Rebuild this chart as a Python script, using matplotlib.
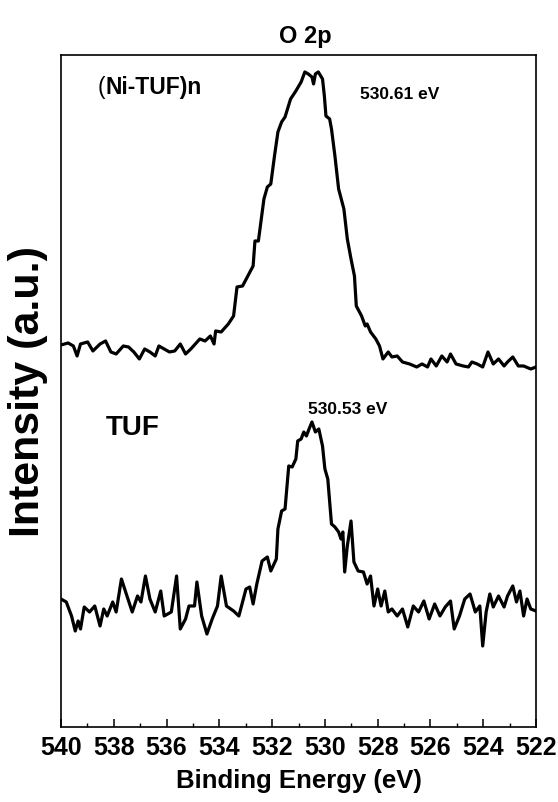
import matplotlib
matplotlib.use('Agg')
import matplotlib.pyplot as plt
from matplotlib.ticker import MultipleLocator, NullLocator

plt.rcParams['font.family'] = ['Liberation Sans', 'DejaVu Sans']
plt.rcParams['font.weight'] = 'bold'

# (Ni-TUF)n spectrum, binding energy (eV) and intensity (a.u.)
e_ni = [540.00, 539.73, 539.53, 539.39, 539.26, 538.99, 538.79, 538.52, 538.31, 538.11,
        537.91, 537.64, 537.44, 537.24, 537.03, 536.83, 536.63, 536.43, 536.29, 536.09,
        535.89, 535.69, 535.48, 535.28, 535.08, 534.74, 534.54, 534.34, 534.20, 534.14,
        533.93, 533.66, 533.46, 533.33, 533.12, 532.92, 532.72, 532.65, 532.52, 532.31,
        532.18, 532.05, 531.91, 531.78, 531.64, 531.51, 531.30, 531.10, 530.90, 530.76,
        530.63, 530.49, 530.43, 530.36, 530.25, 530.09, 530.02, 529.96, 529.82, 529.75,
        529.62, 529.48, 529.28, 529.15, 529.01, 528.88, 528.81, 528.61, 528.47, 528.40,
        528.27, 528.07, 527.93, 527.80, 527.60, 527.46, 527.26, 527.06, 526.79, 526.52,
        526.32, 526.11, 525.98, 525.78, 525.57, 525.37, 525.24, 525.03, 524.76, 524.56,
        524.43, 524.23, 524.02, 523.82, 523.62, 523.42, 523.21, 523.08, 522.88, 522.67,
        522.47, 522.20, 522.00]
i_ni = [382, 384, 381, 371, 383, 385, 376, 383, 386, 375,
        373, 381, 380, 375, 368, 378, 375, 371, 381, 378,
        375, 376, 383, 373, 378, 388, 386, 391, 383, 396,
        395, 403, 411, 440, 441, 451, 461, 486, 486, 528,
        540, 543, 571, 595, 605, 610, 628, 636, 645, 655,
        653, 650, 643, 653, 655, 648, 631, 611, 608, 598,
        571, 538, 518, 488, 468, 451, 421, 411, 401, 403,
        395, 388, 381, 368, 375, 370, 371, 365, 363, 360,
        363, 360, 368, 361, 371, 365, 373, 363, 361, 360,
        365, 363, 360, 375, 363, 368, 361, 365, 370, 361,
        361, 358, 360]

# TUF spectrum
e_tuf = [540.00, 539.80, 539.60, 539.46, 539.35, 539.26, 539.12, 538.92, 538.72, 538.52,
         538.38, 538.25, 538.04, 537.91, 537.71, 537.50, 537.30, 537.10, 536.97, 536.80,
         536.63, 536.43, 536.22, 536.09, 535.82, 535.62, 535.48, 535.28, 535.15, 534.94,
         534.85, 534.67, 534.47, 534.27, 534.07, 533.93, 533.73, 533.46, 533.26, 532.99,
         532.85, 532.72, 532.58, 532.38, 532.18, 532.05, 531.84, 531.78, 531.64, 531.51,
         531.37, 531.24, 531.10, 531.03, 530.90, 530.80, 530.70, 530.60, 530.49, 530.36,
         530.23, 530.09, 530.00, 529.89, 529.75, 529.62, 529.48, 529.39, 529.32, 529.25,
         529.15, 529.01, 528.90, 528.74, 528.54, 528.40, 528.27, 528.14, 528.00, 527.87,
         527.73, 527.60, 527.46, 527.26, 527.06, 526.86, 526.65, 526.45, 526.25, 526.05,
         525.84, 525.64, 525.44, 525.24, 525.10, 524.90, 524.70, 524.50, 524.30, 524.13,
         524.02, 523.89, 523.75, 523.62, 523.42, 523.21, 523.08, 522.88, 522.74, 522.61,
         522.47, 522.34, 522.20, 522.00]
i_tuf = [128, 125, 111, 96, 106, 98, 120, 115, 121, 101,
         118, 111, 125, 115, 148, 131, 115, 131, 125, 151,
         128, 115, 136, 111, 115, 151, 98, 108, 121, 121,
         145, 111, 93, 108, 121, 151, 121, 116, 111, 138,
         140, 123, 143, 166, 170, 156, 168, 198, 216, 218,
         261, 260, 268, 286, 288, 295, 291, 298, 305, 295,
         298, 281, 258, 248, 203, 200, 195, 188, 195, 155,
         181, 206, 165, 156, 155, 143, 151, 121, 138, 121,
         136, 115, 118, 111, 118, 100, 121, 115, 126, 108,
         123, 111, 120, 126, 98, 111, 128, 133, 115, 121,
         81, 115, 133, 120, 131, 120, 131, 141, 125, 136,
         111, 128, 118, 116]

fig = plt.figure(figsize=(5.58, 8.03), dpi=100)
ax = fig.add_axes([0.1093, 0.0934, 0.8513, 0.8369])
ax.plot(e_ni, i_ni, color='black', lw=2.3)
ax.plot(e_tuf, i_tuf, color='black', lw=2.3)

ax.set_xlim(540, 522)
ax.set_ylim(0, 672)
ax.xaxis.set_major_locator(MultipleLocator(2))
ax.xaxis.set_minor_locator(MultipleLocator(1))
ax.yaxis.set_major_locator(NullLocator())
ax.tick_params(axis='x', which='major', direction='in', length=6, width=1.1,
               labelsize=18, pad=6)
ax.tick_params(axis='x', which='minor', direction='in', length=2.8, width=1.0)
for s in ax.spines.values():
    s.set_linewidth(1.2)

ax.set_xlabel('Binding Energy (eV)', fontsize=18.5, fontweight='bold', labelpad=6)
ax.set_ylabel('Intensity (a.u.)', fontsize=31, fontweight='bold')
ax.yaxis.set_label_coords(-0.027, 0.5)
ax.set_title('O 2p', fontsize=17, fontweight='bold', pad=9, x=0.514)

# first bracket is in regular weight in the original
t1 = ax.text(538.6, 640, '(', fontsize=16.5, fontweight='normal', va='center')
ax.annotate('Ni-TUF)n', xy=(1, 0.5), xycoords=t1, fontsize=16.5,
            fontweight='bold', va='center')
ax.text(528.67, 633, '530.61 eV', fontsize=12.5, fontweight='bold', va='center')
ax.text(538.3, 300, 'TUF', fontsize=20, fontweight='bold', va='center')
ax.text(530.64, 318, '530.53 eV', fontsize=12.5, fontweight='bold', va='center')

fig.savefig('out.png', dpi=100)
